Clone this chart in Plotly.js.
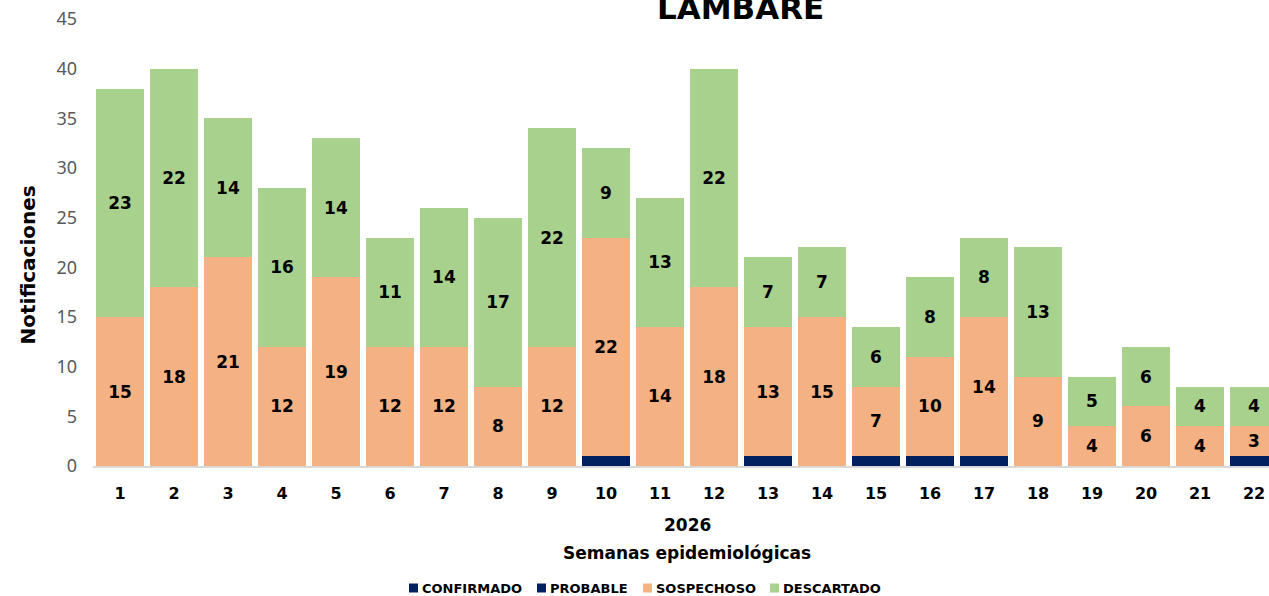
<!DOCTYPE html>
<html>
<head>
<meta charset="utf-8">
<script src="https://cdn.plot.ly/plotly-3.0.1.min.js"></script>
<style>
html,body{margin:0;padding:0;overflow:hidden;background:#fff;}
#chart{width:1290px;height:596px;}
</style>
</head>
<body>
<div id="chart"></div>
<script>
const weeks = ["1","2","3","4","5","6","7","8","9","10","11","12","13","14","15","16","17","18","19","20","21","22"];
const confirmado = [0,0,0,0,0,0,0,0,0,1,0,0,1,0,1,1,1,0,0,0,0,1];
const probable   = [0,0,0,0,0,0,0,0,0,0,0,0,0,0,0,0,0,0,0,0,0,0];
const sospechoso = [15,18,21,12,19,12,12,8,12,22,14,18,13,15,7,10,14,9,4,6,4,3];
const descartado = [23,22,14,16,14,11,14,17,22,9,13,22,7,7,6,8,8,13,5,6,4,4];
const seriesNames = ["CONFIRMADO", "PROBABLE", "SOSPECHOSO", "DESCARTADO"];
const seriesColors = ["#002060", "#002060", "#F4B183", "#A9D18E"];

const BOLD = "DejaVu Sans, Noto Sans, sans-serif";
const REG = "Noto Sans, Open Sans, sans-serif";
const labelFont = {family: BOLD, size: 17, color: "#000", weight: "bold"};

// plot geometry (pixels) used to convert legend placement to paper coords
const L = 93, T = 19, W = 1188, H = 447;
const px2x = p => (p - L) / W;
const py2y = p => (T + H - p) / H;

const traces = [
  {name: seriesNames[0], x: weeks, y: confirmado, type: "bar", marker: {color: seriesColors[0]}, textposition: "none"},
  {name: seriesNames[1], x: weeks, y: probable, type: "bar", marker: {color: seriesColors[1]}, textposition: "none"},
  {name: seriesNames[2], x: weeks, y: sospechoso, type: "bar", marker: {color: seriesColors[2]},
   text: sospechoso.map(String), textposition: "inside", insidetextanchor: "middle", textangle: 0,
   insidetextfont: labelFont, constraintext: "none"},
  {name: seriesNames[3], x: weeks, y: descartado, type: "bar", marker: {color: seriesColors[3]},
   text: descartado.map(String), textposition: "inside", insidetextanchor: "middle", textangle: 0,
   insidetextfont: labelFont, constraintext: "none"}
];

// custom legend (compact, like the reference)
const legendLeft = [409, 537, 643, 770];
const legendY = 588;
const shapes = [], legendAnn = [];
seriesNames.forEach((n, i) => {
  shapes.push({type: "rect", xref: "paper", yref: "paper",
    x0: px2x(legendLeft[i]), x1: px2x(legendLeft[i] + 9),
    y0: py2y(legendY + 4.5), y1: py2y(legendY - 4.5),
    fillcolor: seriesColors[i], line: {width: 0}, layer: "above"});
  legendAnn.push({text: "<b>" + n + "</b>", xref: "paper", yref: "paper",
    x: px2x(legendLeft[i] + 11), y: py2y(legendY), xanchor: "left", yanchor: "middle",
    showarrow: false, font: {family: BOLD, size: 13, color: "#000"}});
});

const layout = {
  width: 1290, height: 596,
  margin: {l: L, r: 1290 - L - W, t: T, b: 596 - T - H, autoexpand: false},
  barmode: "stack",
  bargap: 0.11,
  paper_bgcolor: "#fff", plot_bgcolor: "#fff",
  font: {family: REG},
  showlegend: false,
  xaxis: {type: "category", showline: true, linecolor: "#d9d9d9", linewidth: 1.5,
          ticks: "", tickfont: {family: BOLD, size: 16, color: "#000", weight: "bold"},
          ticklabelstandoff: 12, showgrid: false, zeroline: false, automargin: false},
  yaxis: {range: [0, 45], dtick: 5, showgrid: false, zeroline: false, showline: false,
          tickfont: {family: REG, size: 18, color: "#595959"}, ticks: "", ticklabelstandoff: 15, automargin: false},
  shapes: shapes,
  annotations: [
    {text: "<b>LAMBARE</b>", xref: "paper", yref: "paper", x: 0.545, y: 1.025, xanchor: "center", yanchor: "middle",
     showarrow: false, font: {family: BOLD, size: 31, color: "#000"}},
    {text: "<b>Notificaciones</b>", xref: "paper", yref: "paper", x: -0.055, y: 0.45, xanchor: "center", yanchor: "middle",
     textangle: -90, showarrow: false, font: {family: BOLD, size: 20, color: "#000"}},
    {text: "<b>2026</b>", xref: "paper", yref: "paper", x: 0.5, y: -0.132, xanchor: "center", yanchor: "middle",
     showarrow: false, font: {family: BOLD, size: 17, color: "#000"}},
    {text: "<b>Semanas epidemiológicas</b>", xref: "paper", yref: "paper", x: 0.5, y: -0.195, xanchor: "center", yanchor: "middle",
     showarrow: false, font: {family: BOLD, size: 17, color: "#000"}}
  ].concat(legendAnn)
};

Plotly.newPlot("chart", traces, layout, {displayModeBar: false, staticPlot: true});
</script>
</body>
</html>
